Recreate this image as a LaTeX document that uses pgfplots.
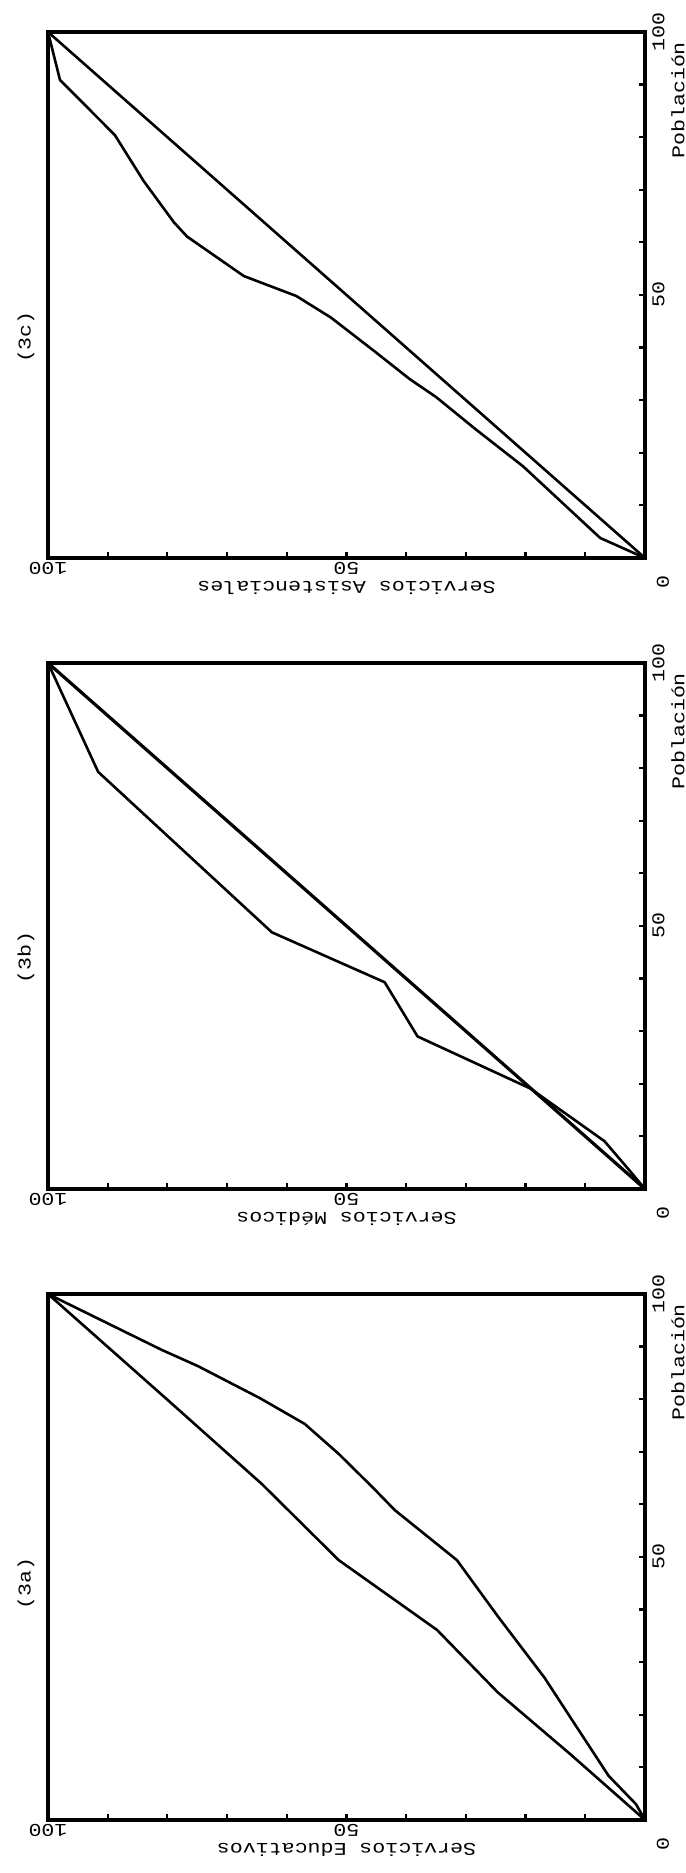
\documentclass[border=0pt]{standalone}
\usepackage{fontspec}
\usepackage{pgfplots}
\pgfplotsset{compat=1.18}
\newfontfamily\plotfont[FakeStretch=1.2]{Liberation Mono}
\newcommand\pf{\plotfont\fontsize{9}{10}\selectfont}

% one Lorenz panel, drawn turned a quarter turn: Servicios runs right-to-left, Poblacion upwards
\pgfplotsset{
  lorenz/.style={
    scale only axis, width=298.5pt, height=263pt, anchor=south west,
    xmin=0, xmax=100, ymin=0, ymax=100, x dir=reverse,
    xtick={0,10,...,100}, ytick={0,10,...,100},
    xticklabels={,,,,,50,,,,,100}, yticklabels={,,,,,50,,,,,100},
    xtick pos=bottom, ytick pos=right,
    tick align=inside, major tick length=2.8pt,
    major tick style={line width=1.1pt, black},
    axis line style={line width=1.6pt, black},
    tick label style={font=\pf},
    xticklabel style={rotate=180, anchor=south, inner sep=2pt},
    yticklabel style={rotate=90, anchor=north, inner sep=3.5pt},
    xlabel style={font=\pf, rotate=180, anchor=south, inner sep=1pt},
    clip=false,
  },
  curve/.style={black, line width=1.3pt, line join=round, mark=none},
}

\begin{document}
\begin{tikzpicture}
\useasboundingbox (0,0) rectangle (342.5pt,936.5pt);

% (3c)
\begin{axis}[lorenz, at={(24pt,657.5pt)}, xlabel={Servicios Asistenciales}]
\addplot[curve] coordinates {(0,0) (100,100)};
\addplot[curve] coordinates {
  (0,0) (7.5,3.8) (20.4,17.4) (28.4,24.5) (35.0,30.6) (39.4,34.0) (45.2,39.2)
  (52.6,45.7) (58.4,49.8) (67.2,53.6) (76.7,61.1) (78.9,63.8) (84.0,71.7)
  (88.8,80.4) (98.0,90.9) (100,100)};
\node[rotate=90, font=\pf] at ([xshift=-11pt]axis cs:100,42) {(3c)};
\node[rotate=90, font=\pf] at ([xshift=16.5pt]axis cs:0,87) {Población};
\node[rotate=90, font=\pf] at ([xshift=9pt,yshift=-12pt]axis cs:0,0) {0};
\end{axis}

% (3b)
\begin{axis}[lorenz, at={(24pt,342pt)}, xlabel={Servicios Médicos}]
\addplot[curve, line width=1.6pt] coordinates {(0,0) (100,100)};
\addplot[curve] coordinates {
  (0,0) (2.8,3.8) (6.8,9.1) (19.2,19.1) (38.1,29.0) (43.6,39.3)
  (62.5,48.8) (91.6,79.3) (100,100)};
\node[rotate=90, font=\pf] at ([xshift=-11pt]axis cs:100,44) {(3b)};
\node[rotate=90, font=\pf] at ([xshift=16.5pt]axis cs:0,87) {Población};
\node[rotate=90, font=\pf] at ([xshift=9pt,yshift=-12pt]axis cs:0,0) {0};
\end{axis}

% (3a)
\begin{axis}[lorenz, at={(24pt,26.5pt)}, xlabel={Servicios Educativos}]
\addplot[curve] coordinates {
  (0,0) (12.5,12.5) (24.7,24.3) (34.8,36.1) (51.3,49.4) (64.2,63.9)
  (79.9,79.8) (100,100)};
\addplot[curve] coordinates {
  (0,0) (1.5,3.0) (6.1,8.4) (13.3,20.9) (16.8,27.0) (24.7,38.8) (31.5,49.4)
  (41.9,58.9) (45.5,63.1) (51.3,69.6) (57.0,75.3) (64.5,80.2) (74.9,86.3)
  (81.0,89.4) (100,100)};
\node[rotate=90, font=\pf] at ([xshift=-11pt]axis cs:100,45) {(3a)};
\node[rotate=90, font=\pf] at ([xshift=16.5pt]axis cs:0,87) {Población};
\node[rotate=90, font=\pf] at ([xshift=9pt,yshift=-12pt]axis cs:0,0) {0};
\end{axis}
\end{tikzpicture}
\end{document}
